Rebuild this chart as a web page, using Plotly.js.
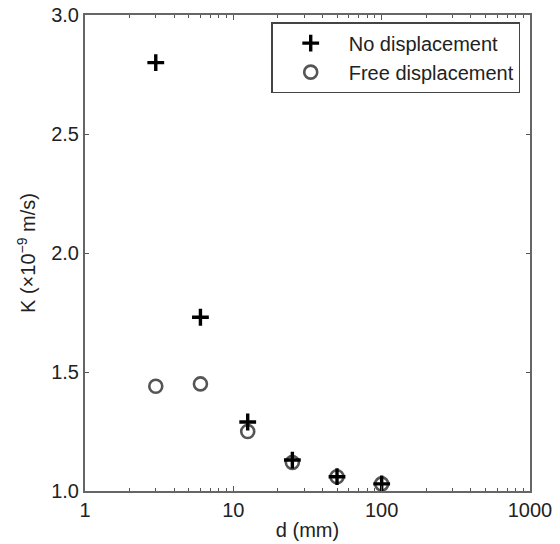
<!DOCTYPE html>
<html>
<head>
<meta charset="utf-8">
<script src="https://cdn.plot.ly/plotly-3.0.1.min.js"></script>
<style>html,body{margin:0;padding:0;background:#fff;}#chart{width:560px;height:544px;}</style>
</head>
<body>
<div id="chart"></div>
<script>
const dNo = [3, 6, 12.5, 25, 50, 100];
const kNo = [2.80, 1.73, 1.29, 1.13, 1.06, 1.03];
const dFree = [3, 6, 12.5, 25, 50, 100];
const kFree = [1.44, 1.45, 1.25, 1.12, 1.06, 1.03];
const xMajor = [1, 10, 100, 1000];
const xMajorText = ['1', '10', '100', '1000'];
const xMinor = [2,3,4,5,6,7,8,9,20,30,40,50,60,70,80,90,200,300,400,500,600,700,800,900];
const yTicks = [1.0, 1.5, 2.0, 2.5, 3.0];

const font = 'Liberation Sans, Arial, sans-serif';
const fs = 20;

const traces = [
  {
    x: dFree, y: kFree, name: 'Free displacement', type: 'scatter', mode: 'markers',
    marker: {symbol: 'circle-open', size: 13, color: '#555555', line: {width: 2.6, color: '#555555'}}
  },
  {
    x: dNo, y: kNo, name: 'No displacement', type: 'scatter', mode: 'markers',
    marker: {symbol: 'cross-thin-open', size: 12, color: '#000000', line: {width: 3.4, color: '#000000'}}
  }
];

const layout = {
  width: 560, height: 544,
  margin: {l: 85, r: 30, t: 15, b: 53},
  paper_bgcolor: '#ffffff', plot_bgcolor: '#ffffff',
  font: {family: font, size: fs, color: '#222222'},
  showlegend: true,
  legend: {
    x: 0.978, y: 0.985, xanchor: 'right', yanchor: 'top',
    bordercolor: '#444444', borderwidth: 1.5, bgcolor: '#ffffff',
    traceorder: 'reversed', font: {family: font, size: fs, color: '#222222'},
    itemwidth: 66, tracegroupgap: 0
  },
  xaxis: {
    type: 'log', range: [0, 3],
    tickvals: xMajor, ticktext: xMajorText,
    ticks: 'inside', ticklen: 5, tickwidth: 1, tickcolor: '#555555',
    minor: {tickvals: xMinor, ticks: 'inside', ticklen: 3, tickwidth: 1, tickcolor: '#555555'},
    showline: true, linecolor: '#666666', linewidth: 2, mirror: 'allticks',
    showgrid: false, zeroline: false,
    tickfont: {family: font, size: fs, color: '#222222'},
    title: {text: 'd (mm)', font: {family: font, size: fs, color: '#222222'}, standoff: 3}
  },
  yaxis: {
    range: [1, 3], tickvals: yTicks, tickformat: '.1f',
    ticks: 'inside', ticklen: 4, tickwidth: 1, tickcolor: '#555555',
    showline: true, linecolor: '#666666', linewidth: 2, mirror: 'allticks',
    showgrid: false, zeroline: false,
    tickfont: {family: font, size: fs, color: '#222222'},
    title: {text: 'K (×10<sup>−9</sup> m/s)', font: {family: font, size: fs, color: '#222222'}, standoff: 10}
  }
};

Plotly.newPlot('chart', traces, layout, {staticPlot: true, displayModeBar: false});
</script>
</body>
</html>
